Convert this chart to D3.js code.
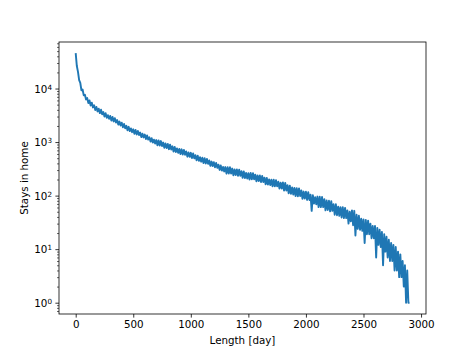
<!DOCTYPE html>
<html>
<head>
<meta charset="utf-8">
<script src="https://cdn.jsdelivr.net/npm/d3@7"></script>
<style>
  body { margin: 0; background: #fff; }
  text { font-family: "DejaVu Sans", sans-serif; }
</style>
</head>
<body>
<div class="chart"></div>
<script>
// counts of stays by length, one value every 10 days
let dayStep = 10;
let stays = [
  46000, 26300, 20500, 14300, 12700, 9250, 9590, 7460, 7650, 6260,
  6630, 5360, 6000, 4820, 5450, 4440, 4860, 3970, 4520, 3740,
  4200, 3470, 4020, 3300, 3640, 3000, 3460, 2840, 3180, 2720,
  3080, 2530, 2950, 2430, 2800, 2320, 2580, 2120, 2420, 2040,
  2300, 1890, 2180, 1810, 2010, 1660, 1930, 1600, 1800, 1530,
  1730, 1430, 1680, 1390, 1610, 1350, 1510, 1240, 1430, 1220,
  1380, 1140, 1330, 1110, 1230, 1020, 1180, 980, 1110, 940,
  1090, 870, 1070, 860, 1045, 845, 980, 780, 940, 775,
  920, 737, 897, 726, 833, 667, 812, 650, 763, 629,
  744, 595, 733, 587, 715, 578, 671, 534, 642, 529,
  630, 504, 614, 497, 570, 456, 556, 445, 522, 431,
  509, 406, 500, 399, 485, 392, 453, 359, 432, 356,
  422, 337, 409, 330, 379, 302, 366, 293, 343, 283,
  341, 257, 341, 258, 338, 259, 320, 240, 309, 243,
  308, 234, 305, 235, 285, 215, 282, 213, 266, 209,
  263, 200, 266, 201, 263, 202, 247, 185, 239, 187,
  237, 179, 234, 179, 217, 163, 213, 161, 200, 158,
  198, 149, 198, 149, 194, 149, 182, 136, 174, 135,
  177, 124, 173, 124, 157, 110, 153, 108, 142, 105,
  139, 98, 138, 97, 136, 98, 125, 87, 119, 88,
  118, 83, 116, 83, 104, 52, 102, 71, 93, 69,
  96, 61, 95, 61, 94, 61, 86, 53, 81, 54,
  80, 51, 79, 52, 69, 44, 69, 43, 62, 42,
  61, 39, 61, 38, 59, 38, 53, 30, 50, 33,
  53, 28, 52, 18, 44, 24, 42, 23, 37, 22,
  36, 13, 35, 19, 34, 19, 30, 16, 27, 16,
  27, 7, 25, 12, 23, 11, 21, 5, 19, 9,
  17, 7, 15, 6, 13, 6, 12, 4, 11, 4,
  9, 3, 8, 3, 6, 2, 5, 1, 4, 1, 1
];
let xTicks = [0, 500, 1000, 1500, 2000, 2500, 3000];
let yTicks = [1, 10, 100, 1000, 10000];

let margin = { top: 42, left: 59, right: 47, bottom: 40 };
let width = 473 - margin.left - margin.right;
let height = 354 - margin.top - margin.bottom;

let svg = d3.select(".chart")
  .append("svg")
  .attr("width", 473)
  .attr("height", 354)
  .append("g")
  .attr("transform", "translate(" + margin.left + "," + margin.top + ")");

let x = d3.scaleLinear().domain([-145, 3043]).range([0, width]);
let y = d3.scaleLog().domain([0.615, 74000]).range([height, 0]);

// minor ticks on the log axis
let minorTicks = [];
yTicks.concat([0.1]).forEach(function(d) {
  for (let k = 2; k <= 9; k++) {
    let v = d * k;
    if (v > y.domain()[0] && v < y.domain()[1]) minorTicks.push(v);
  }
});

let line = d3.line()
  .x(function(d, i) { return x(i * dayStep); })
  .y(function(d) { return y(d); });

svg.append("path")
  .datum(stays)
  .attr("d", line)
  .attr("fill", "none")
  .attr("stroke", "#1f77b4")
  .attr("stroke-width", 1.9)
  .attr("stroke-linejoin", "round");

let xAxis = svg.append("g")
  .attr("transform", "translate(0," + height + ")")
  .call(d3.axisBottom(x).tickValues(xTicks).tickSize(3.6).tickPadding(3.4).tickFormat(d3.format("d")));

let yMinor = svg.append("g")
  .call(d3.axisLeft(y).tickValues(minorTicks).tickSize(2).tickFormat(""));
yMinor.select(".domain").remove();
yMinor.selectAll("line").attr("stroke-width", 0.6);

let yAxis = svg.append("g")
  .call(d3.axisLeft(y).tickValues(yTicks).tickSize(3.6).tickPadding(3.4).tickFormat(""));

yAxis.selectAll(".tick text")
  .attr("dy", "0.36em")
  .each(function(d) {
    let t = d3.select(this);
    t.append("tspan").text("10");
    t.append("tspan")
      .attr("dy", "-0.45em")
      .attr("font-size", "7.2px")
      .text(Math.round(Math.log10(d)));
  });

svg.selectAll(".tick text").attr("font-size", "10.3px").attr("fill", "#000").attr("font-family", "DejaVu Sans");
svg.selectAll(".tick line").attr("stroke", "#000");
svg.selectAll(".tick line").filter(function() { return this.getAttribute("stroke-width") == null; }).attr("stroke-width", 0.8);
xAxis.select(".domain").remove();
yAxis.select(".domain").remove();

// frame
svg.append("rect")
  .attr("width", width)
  .attr("height", height)
  .attr("fill", "none")
  .attr("stroke", "#000")
  .attr("stroke-width", 0.8);

svg.append("text")
  .attr("x", width / 2)
  .attr("y", height + 30)
  .attr("text-anchor", "middle")
  .attr("font-size", "10.3px")
  .text("Length [day]");

svg.append("text")
  .attr("transform", "translate(" + (-31) + "," + (height / 2) + ") rotate(-90)")
  .attr("text-anchor", "middle")
  .attr("font-size", "10.3px")
  .text("Stays in home");
</script>
</body>
</html>
